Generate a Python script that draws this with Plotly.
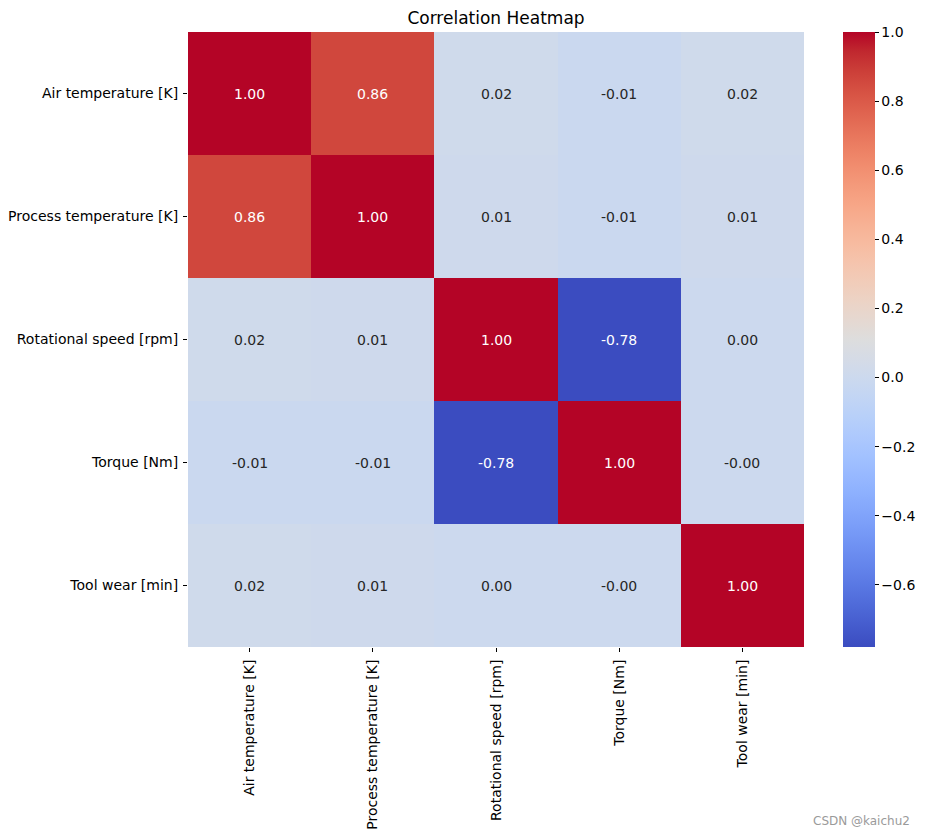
import plotly.graph_objects as go

labels = ["Air temperature [K]", "Process temperature [K]", "Rotational speed [rpm]",
          "Torque [Nm]", "Tool wear [min]"]
corr = [
    [1.00, 0.86, 0.02, -0.01, 0.02],
    [0.86, 1.00, 0.01, -0.01, 0.01],
    [0.02, 0.01, 1.00, -0.78, 0.00],
    [-0.01, -0.01, -0.78, 1.00, -0.004],
    [0.02, 0.01, 0.00, -0.004, 1.00],
]
cbar_ticks = [-0.6, -0.4, -0.2, 0.0, 0.2, 0.4, 0.6, 0.8, 1.0]

coolwarm_rgb = [
    (59, 76, 192), (68, 90, 204), (77, 104, 215), (87, 117, 225), (98, 130, 234),
    (108, 142, 241), (119, 154, 247), (130, 165, 251), (141, 176, 254), (152, 185, 255),
    (163, 194, 255), (174, 201, 253), (184, 208, 249), (194, 213, 244), (204, 217, 238),
    (213, 219, 230), (221, 221, 221), (229, 216, 209), (236, 211, 197), (241, 204, 185),
    (245, 196, 173), (247, 187, 160), (247, 177, 148), (247, 166, 135), (244, 154, 123),
    (241, 141, 111), (236, 127, 99), (229, 112, 88), (222, 96, 77), (213, 80, 66),
    (203, 62, 56), (192, 40, 47), (180, 4, 38),
]
n = len(coolwarm_rgb) - 1
colorscale = [[i / n, f"rgb{c}"] for i, c in enumerate(coolwarm_rgb)]

zmin = min(min(r) for r in corr)
zmax = max(max(r) for r in corr)

font_family = "DejaVu Sans"
fs = 14

fig = go.Figure(go.Heatmap(
    z=corr, x=labels, y=labels, colorscale=colorscale, zmin=zmin, zmax=zmax,
    xgap=0, ygap=0,
    colorbar=dict(
        thickness=32, len=1, lenmode="fraction", y=0.5, yanchor="middle",
        x=1.0633, xanchor="left", xpad=0, ypad=0, outlinewidth=0,
        tickvals=cbar_ticks, ticktext=[f"{v:.1f}".replace("-", "\u2212") for v in cbar_ticks],
        ticks="outside", ticklen=4, tickcolor="black", tickwidth=1,
        tickfont=dict(family=font_family, size=fs, color="black"),
    ),
))

annotations = []
for i, row in enumerate(corr):
    for j, v in enumerate(row):
        norm = (v - zmin) / (zmax - zmin)
        color = "white" if (norm > 0.85 or norm < 0.15) else "#262626"
        txt = f"{v:.2f}"
        if txt == "0.00" and v < 0:
            txt = "-0.00"
        annotations.append(dict(x=labels[j], y=labels[i], text=txt, showarrow=False,
                                font=dict(family=font_family, size=fs, color=color)))
annotations.append(dict(x=1, y=0, xref="paper", yref="paper", xshift=108, yshift=-174,
                        xanchor="right", yanchor="middle", text="CSDN @kaichu2",
                        showarrow=False, font=dict(family=font_family, size=12, color="#9a9a9a")))

fig.update_layout(
    width=927, height=836,
    margin=dict(l=188, r=123, t=32, b=189, autoexpand=False),
    paper_bgcolor="white", plot_bgcolor="white",
    title=dict(text="Correlation Heatmap", x=(188 + 308) / 927, xanchor="center",
               y=1 - 18 / 836, yanchor="middle",
               font=dict(family=font_family, size=17, color="black")),
    font=dict(family=font_family, size=fs, color="black"),
    annotations=annotations,
    xaxis=dict(tickangle=-90, ticks="outside", ticklen=4, tickcolor="black", automargin=False,
               showgrid=False, zeroline=False, showline=False, ticklabelstandoff=2,
               tickfont=dict(family=font_family, size=fs, color="black")),
    yaxis=dict(autorange="reversed", ticks="outside", ticklen=4, tickcolor="black", automargin=False,
               showgrid=False, zeroline=False, showline=False, ticklabelstandoff=2,
               tickfont=dict(family=font_family, size=fs, color="black")),
)

fig.write_html("out.html")
